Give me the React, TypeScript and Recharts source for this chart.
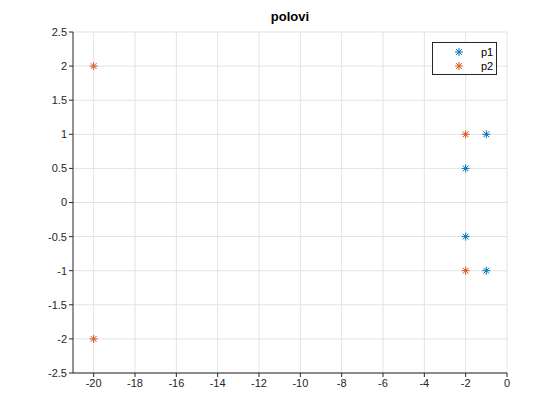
import React from "react";
import { ScatterChart, Scatter, XAxis, YAxis, CartesianGrid } from "recharts";

const p1 = [
  { x: -1, y: 1 },
  { x: -2, y: 0.5 },
  { x: -2, y: -0.5 },
  { x: -1, y: -1 },
];
const p2 = [
  { x: -2, y: 1 },
  { x: -20, y: 2 },
  { x: -20, y: -2 },
  { x: -2, y: -1 },
];
const xTicks = [-20, -18, -16, -14, -12, -10, -8, -6, -4, -2, 0];
const yTicks = [-2.5, -2, -1.5, -1, -0.5, 0, 0.5, 1, 1.5, 2, 2.5];
const C1 = "#0072BD";
const C2 = "#D95319";

const Star = (color: string) => (props: any) => {
  const { cx, cy } = props;
  const r = 4;
  const d = r * 0.72;
  return (
    <g stroke={color} strokeWidth={1}>
      <line x1={cx - r} y1={cy} x2={cx + r} y2={cy} />
      <line x1={cx} y1={cy - r} x2={cx} y2={cy + r} />
      <line x1={cx - d} y1={cy - d} x2={cx + d} y2={cy + d} />
      <line x1={cx - d} y1={cy + d} x2={cx + d} y2={cy - d} />
    </g>
  );
};

const LegendBox = () => (
  <div style={{ position: "absolute", top: 42, left: 432, width: 65, height: 33, border: "1px solid #262626", background: "#fff", fontFamily: "Liberation Sans, Arial", fontSize: 11, boxSizing: "border-box", padding: "2px 0 0 6px" }}>
    {[["p1", C1], ["p2", C2]].map(([n, c]) => (
      <div key={n} style={{ display: "flex", alignItems: "center", height: 14 }}>
        <svg width={40} height={12}>{Star(c)({ cx: 20, cy: 6 })}</svg>
        <span style={{ marginLeft: 2 }}>{n}</span>
      </div>
    ))}
  </div>
);

const tickStyle = { fontSize: 11, fill: "#262626", fontFamily: "Liberation Sans, Arial" };

export default function App() {
  return (
    <div style={{ position: "relative", width: 560, height: 420, margin: -8, background: "#fff" }}>
      <div style={{ position: "absolute", top: 9, left: 73, width: 434, textAlign: "center", fontFamily: "Liberation Sans, Arial", fontWeight: "bold", fontSize: 13, color: "#000" }}>polovi</div>
      <ScatterChart width={560} height={420} margin={{ top: 32, right: 53, bottom: 17, left: 33 }}>
        <CartesianGrid stroke="#e3e3e3" horizontalValues={yTicks} verticalValues={xTicks} />
        <XAxis type="number" dataKey="x" domain={[-21, 0]} ticks={xTicks} height={30} tick={tickStyle} stroke="#262626" tickSize={4} allowDataOverflow />
        <XAxis xAxisId="top" orientation="top" type="number" domain={[-21, 0]} ticks={xTicks} tick={false} height={0} stroke="#262626" />
        <YAxis type="number" dataKey="y" domain={[-2.5, 2.5]} ticks={yTicks} width={40} tick={tickStyle} stroke="#262626" tickSize={4} />
        <YAxis yAxisId="right" orientation="right" type="number" domain={[-2.5, 2.5]} ticks={yTicks} tick={false} width={0} stroke="#262626" />
        <Scatter name="p1" data={p1} shape={Star(C1)} isAnimationActive={false} />
        <Scatter name="p2" data={p2} shape={Star(C2)} isAnimationActive={false} />
      </ScatterChart>
      <LegendBox />
    </div>
  );
}
